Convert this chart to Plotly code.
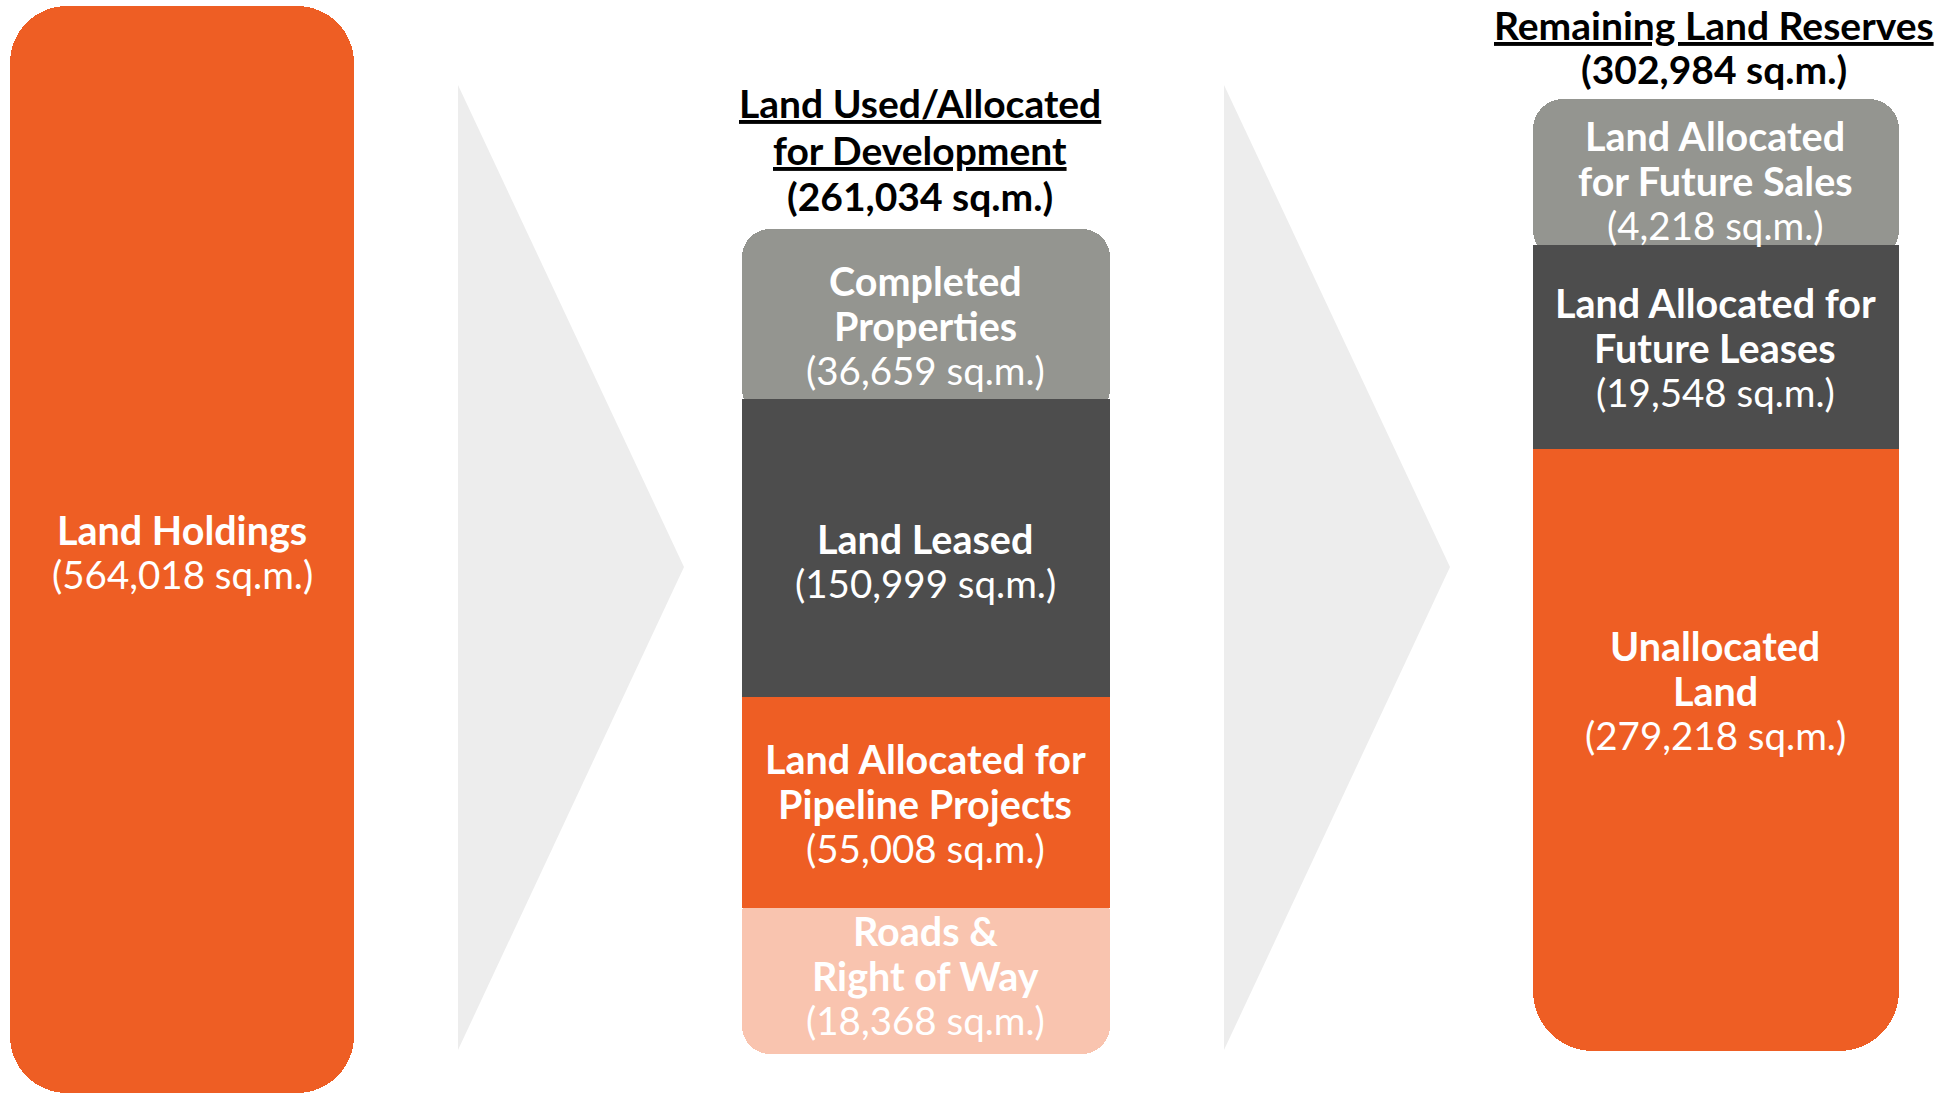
import plotly.graph_objects as go

# ---------------- data ----------------
holdings_label = ["Land Holdings"]
holdings_value = 564018

dev_title = ["Land Used/Allocated", "for Development"]
dev_total = 261034
dev_labels = [["Completed", "Properties"], ["Land Leased"],
              ["Land Allocated for", "Pipeline Projects"], ["Roads &", "Right of Way"]]
dev_values = [36659, 150999, 55008, 18368]

res_title = ["Remaining Land Reserves"]
res_total = 302984
res_labels = [["Land Allocated", "for Future Sales"], ["Land Allocated for", "Future Leases"],
              ["Unallocated", "Land"]]
res_values = [4218, 19548, 279218]

# ---------------- layout / style ----------------
W, H = 1960, 1094
ORANGE = "#EE5E24"
GRAY = "#949590"
DARK = "#4D4D4D"
PINK = "#F9C4AF"
CHEVRON = "#EDEDED"
FONT = "Lato"
FS_B = 39.5   # bold label lines
FS_R = 38.5   # value lines
FS_T = 39     # titles

dev_colors = [GRAY, DARK, ORANGE, PINK]
res_colors = [GRAY, DARK, ORANGE]

# display sizes (schematic, not proportional in the original)
left_box = dict(x0=10, x1=354, top=6, bottom=1093, r=57)
dev_box = dict(x0=742, x1=1110, top=229, heights=[170, 298, 211, 146],
               rt=28, rb=28, ext_top=18, ext_bot=22)
res_box = dict(x0=1533, x1=1899, top=99, heights=[146, 204, 602],
               rt=30, rb=60, ext_top=15, ext_bot=60)

LINE = 45
left_label_top = 529
dev_label_top = [280, 538, 758, 930]
res_label_top = [135, 302, 645]
dev_title_y = [103, 150, 196]
res_title_y = [25, 69]


def fmt(v):
    return f"({v:,} sq.m.)"


fig = go.Figure()


def add_bar(xc, w, top, bottom, color, round_end=None, r=0):
    h = bottom - top
    if round_end == "bottom":
        base, y = H - top, -h
    else:
        base, y = H - bottom, h
    fig.add_trace(go.Bar(
        x=[xc], y=[y], base=[base], width=[w],
        marker=dict(color=color, line=dict(width=0),
                    cornerradius=r if round_end else 0),
        hoverinfo="skip", showlegend=False,
    ))


# chevrons
for (lx, tipx) in [(458, 684), (1224, 1450)]:
    fig.add_shape(type="path", xref="x", yref="y", layer="below",
                  path=f"M {lx},{H-85} L {tipx},{H-567} L {lx},{H-1050} Z",
                  fillcolor=CHEVRON, line=dict(width=0))

# left box (rounded all corners: two overlapping halves)
lc = (left_box["x0"] + left_box["x1"]) / 2
lw = left_box["x1"] - left_box["x0"]
mid = (left_box["top"] + left_box["bottom"]) / 2
add_bar(lc, lw, left_box["top"], mid + 150, ORANGE, "top", left_box["r"])
add_bar(lc, lw, mid - 150, left_box["bottom"], ORANGE, "bottom", left_box["r"])


def add_stack(box, colors):
    xc = (box["x0"] + box["x1"]) / 2
    w = box["x1"] - box["x0"]
    bounds = [box["top"]]
    for hgt in box["heights"]:
        bounds.append(bounds[-1] + hgt)
    n = len(box["heights"])
    # rounded end pieces first (extended under neighbours), square pieces on top
    add_bar(xc, w, bounds[0], bounds[1] + box["ext_top"], colors[0], "top", box["rt"])
    add_bar(xc, w, bounds[n - 1] - box["ext_bot"], bounds[n], colors[n - 1], "bottom", box["rb"])
    for i in range(1, n - 1):
        add_bar(xc, w, bounds[i], bounds[i + 1], colors[i])
    return xc


dev_xc = add_stack(dev_box, dev_colors)
res_xc = add_stack(res_box, res_colors)


def ann(x, ytop, text, color="white", size=FS_B, under=False):
    font = dict(family=FONT, size=size, color=color)
    if under:
        font["lineposition"] = "under"
    fig.add_annotation(x=x, y=H - ytop, xref="x", yref="y", text=text,
                       showarrow=False, xanchor="center", yanchor="middle", font=font)


def label(x, ytop, lines, value, color="white"):
    y = ytop
    for ln in lines:
        ann(x, y, f"<b>{ln}</b>", color, FS_B)
        y += LINE
    ann(x, y, fmt(value), color, FS_R)


label(lc, left_label_top, holdings_label, holdings_value)
for lines, v, yt in zip(dev_labels, dev_values, dev_label_top):
    label(dev_xc - 1, yt, lines, v)
for lines, v, yt in zip(res_labels, res_values, res_label_top):
    label(res_xc - 1, yt, lines, v)

# titles
ann(920, dev_title_y[0], f"<b>{dev_title[0]}</b>", "#000000", FS_T, under=True)
ann(920, dev_title_y[1], f"<b>{dev_title[1]}</b>", "#000000", FS_T, under=True)
ann(920, dev_title_y[2], f"<b>{fmt(dev_total)}</b>", "#000000", FS_T)
ann(1714, res_title_y[0], f"<b>{res_title[0]}</b>", "#000000", FS_T, under=True)
ann(1714, res_title_y[1], f"<b>{fmt(res_total)}</b>", "#000000", FS_T)

fig.update_layout(
    width=W, height=H, margin=dict(l=0, r=0, t=0, b=0),
    paper_bgcolor="white", plot_bgcolor="white",
    barmode="overlay", bargap=0,
    xaxis=dict(range=[0, W], visible=False, fixedrange=True),
    yaxis=dict(range=[0, H], visible=False, fixedrange=True),
    showlegend=False,
)

fig.write_html("out.html", config={"displayModeBar": False},
               post_script="document.body.style.margin='0px';document.body.style.overflow='hidden';")
